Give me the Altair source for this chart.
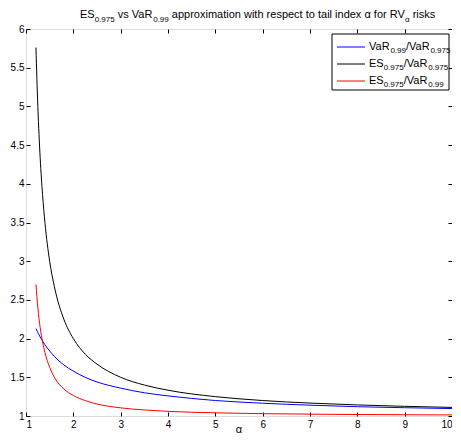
import altair as alt
import pandas as pd

# ---- data ----
alpha = [1.21, 1.25, 1.3, 1.35, 1.4, 1.5, 1.6, 1.8, 2.0, 2.25, 2.5, 3.0, 3.5, 4.0, 5.0, 6.0, 7.0, 8.0, 9.0, 10.0]
var_ratio = [2.13, 2.08, 2.02, 1.97, 1.92, 1.84, 1.77, 1.66, 1.58, 1.50, 1.44, 1.36, 1.30, 1.26, 1.20, 1.165, 1.14, 1.12, 1.107, 1.096]
es_var975 = [5.76, 5.00, 4.33, 3.86, 3.50, 3.00, 2.67, 2.25, 2.00, 1.80, 1.67, 1.50, 1.40, 1.333, 1.25, 1.20, 1.167, 1.143, 1.125, 1.111]
es_var99 = [2.70, 2.40, 2.14, 1.96, 1.82, 1.63, 1.50, 1.35, 1.265, 1.20, 1.155, 1.105, 1.078, 1.06, 1.041, 1.03, 1.024, 1.019, 1.016, 1.014]

series_colors = ["#0000ff", "#000000", "#ff0000"]
x_ticks = [1, 2, 3, 4, 5, 6, 7, 8, 9, 10]
y_ticks = [1, 1.5, 2, 2.5, 3, 3.5, 4, 4.5, 5, 5.5, 6]

title_parts = [("ES", False), ("0.975", True), (" vs VaR", False), ("0.99", True),
               (" approximation with respect to tail index \u03b1 for RV", False), ("\u03b1", True), (" risks", False)]
legend_rows = [
    [("VaR", False), ("0.99", True), ("/VaR", False), ("0.975", True)],
    [("ES", False), ("0.975", True), ("/VaR", False), ("0.975", True)],
    [("ES", False), ("0.975", True), ("/VaR", False), ("0.99", True)],
]
x_title = "\u03b1"

FONT = "Liberation Sans"
W, H = 426, 387
MAIN, SUB = 11, 8

# Arial / Liberation Sans advance widths (per 1000 em)
CW = {' ': 278, '.': 278, '/': 278, 'E': 667, 'S': 667, 'V': 667, 'R': 722, 'a': 556, 'p': 556,
      'r': 333, 'o': 556, 'x': 500, 'i': 222, 'm': 833, 't': 278, 'n': 556, 'w': 722, 'h': 556,
      'e': 556, 's': 500, 'c': 500, 'l': 222, 'd': 556, 'f': 278, 'k': 500, 'v': 500, '\u03b1': 578}
for dch in "0123456789":
    CW[dch] = 556


def tw(s, size):
    return sum(CW.get(ch, 556) for ch in s) * size / 1000.0


dummy = alt.Data(values=[{}])


def rich_text(parts, x0, y_main, y_sub):
    layers = []
    x = x0
    for txt, sub in parts:
        size = SUB if sub else MAIN
        lead = len(txt) - len(txt.lstrip(" "))
        core = txt.strip(" ")
        x += tw(" " * lead, size)
        layers.append(
            alt.Chart(dummy).mark_text(text=core, align="left", baseline="alphabetic", font=FONT,
                                       fontSize=size, color="black")
            .encode(x=alt.value(x), y=alt.value(y_sub if sub else y_main))
        )
        x += tw(txt[lead:], size)
    return layers


xs = alt.Scale(domain=[1, 10], nice=False, zero=False)
ys = alt.Scale(domain=[1, 6], nice=False, zero=False)

line_layers = []
for vals, col in zip([var_ratio, es_var975, es_var99], series_colors):
    df = pd.DataFrame({"alpha": alpha, "v": vals})
    line_layers.append(
        alt.Chart(df).mark_line(color=col, strokeWidth=1, interpolate="monotone", clip=True).encode(
            x=alt.X("alpha:Q", scale=xs,
                    axis=alt.Axis(values=x_ticks, format="d", orient="bottom", offset=-4, tickSize=4,
                                  domain=False, grid=False, labelPadding=3, title=None,
                                  labelFontSize=10, labelFont=FONT,
                                  tickColor="black", labelColor="black")),
            y=alt.Y("v:Q", scale=ys,
                    axis=alt.Axis(values=y_ticks, format="~g", orient="left", offset=-4, tickSize=4,
                                  domain=False, grid=False, labelPadding=2, title=None,
                                  labelFontSize=10, labelFont=FONT,
                                  tickColor="black", labelColor="black")),
        )
    )

base_lines = alt.layer(*line_layers)

frame_df = pd.DataFrame({"alpha": alpha, "v": var_ratio})
mirror = alt.Chart(frame_df).mark_point(opacity=0).encode(
    x=alt.X("alpha:Q", scale=xs,
            axis=alt.Axis(values=x_ticks, orient="top", offset=-4, tickSize=4, labels=False,
                          domain=False, grid=False, title=None, tickColor="black")),
    y=alt.Y("v:Q", scale=ys,
            axis=alt.Axis(values=y_ticks, orient="right", offset=-4, tickSize=4, labels=False,
                          domain=False, grid=False, title=None, tickColor="black")),
)

# legend box (decoration)
box = alt.Chart(dummy).mark_rect(fill="white", stroke="black", strokeWidth=1).encode(
    x=alt.value(306), x2=alt.value(423), y=alt.value(5), y2=alt.value(61))
legend_layers = [box]
row_y = [18, 35, 52]
for ry, col, parts in zip(row_y, series_colors, legend_rows):
    legend_layers.append(
        alt.Chart(dummy).mark_rule(color=col, strokeWidth=1).encode(
            x=alt.value(311), x2=alt.value(339), y=alt.value(ry)))
    legend_layers += rich_text(parts, 343, ry + 3, ry + 6)

title_layers = rich_text(title_parts, 54, -11, -7)

xlab = alt.Chart(dummy).mark_text(text=x_title, align="center", baseline="alphabetic", font=FONT,
                                  fontSize=11, color="black").encode(
    x=alt.value(W / 2), y=alt.value(H + 17))

chart = alt.layer(
    base_lines, mirror, *legend_layers, *title_layers, xlab
).resolve_axis(x="independent", y="independent").properties(
    width=W, height=H,
    autosize=alt.AutoSizeParams(type="none"),
    padding={"left": 18, "top": 21, "right": 0, "bottom": 18},
).configure_view(stroke="black", strokeWidth=1).configure(background="white")

chart.save("out.html", embed_options={"renderer": "svg", "actions": False})
